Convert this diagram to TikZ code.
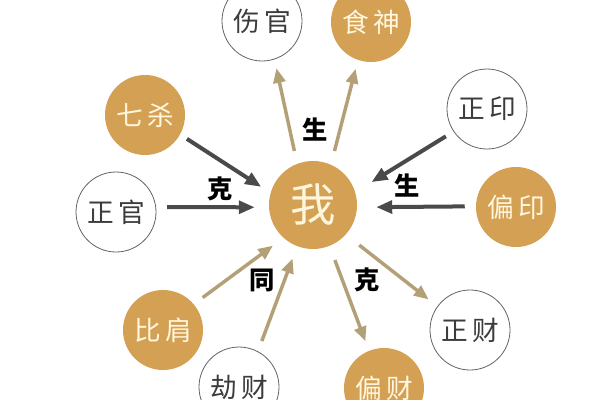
\documentclass[tikz,border=0pt]{standalone}
\usepackage{fontspec}
\newfontfamily\cjk{Noto Sans CJK SC}
\usetikzlibrary{arrows.meta}
\definecolor{gold}{RGB}{212,160,84}
\definecolor{cream}{RGB}{255,246,222}
\definecolor{inkgray}{RGB}{60,60,60}
\definecolor{rimgray}{RGB}{100,100,100}
\definecolor{darkarr}{RGB}{74,74,74}
\definecolor{tanarr}{RGB}{180,160,118}
\begin{document}
\begin{tikzpicture}[x=0.75pt,y=-0.75pt,
  filledc/.style={circle, fill=gold, minimum size=60pt, inner sep=0pt, text=cream,
    font=\cjk\fontsize{20}{20}\selectfont},
  whitec/.style={circle, draw=rimgray, line width=0.6pt, fill=white, minimum size=60pt, inner sep=0pt, text=inkgray,
    font=\cjk\fontsize{20}{20}\selectfont},
  centrec/.style={circle, fill=gold, minimum size=66pt, inner sep=0pt, text=cream,
    font=\cjk\fontsize{34}{34}\selectfont},
  lbl/.style={inner sep=0pt, text=black, font=\cjk\bfseries\fontsize{19}{19}\selectfont},
  darkarrow/.style={draw=darkarr, line width=3pt, -{Triangle[length=12pt,width=9.5pt]}},
  tanarrow/.style={draw=tanarr, line width=2.6pt, -{Triangle[length=11pt,width=9pt]}}
]
\useasboundingbox (0,0) rectangle (600,400);
\fill[white] (0,0) rectangle (600,400);

\node[centrec] (wo) at (313,205) {我};
\node[whitec] (shangguan) at (262,21) {伤\hspace{3pt}官};
\node[filledc] (shishen) at (371,22) {食\hspace{3pt}神};
\node[filledc] (qisha) at (145,115) {七\hspace{3pt}杀};
\node[whitec] (zhengguan) at (116,212) {正\hspace{3pt}官};
\node[whitec] (zhengyin) at (487,109) {正\hspace{3pt}印};
\node[filledc] (pianyin) at (516,207) {偏\hspace{3pt}印};
\node[filledc] (bijian) at (163,330) {比\hspace{3pt}肩};
\node[whitec] (jiecai) at (239,387) {劫\hspace{3pt}财};
\node[filledc] (piancai) at (384,388) {偏\hspace{3pt}财};
\node[whitec] (zhengcai) at (470,330) {正\hspace{3pt}财};

\draw[tanarrow, shorten <=9.75pt, shorten >=6.75pt] (wo.111) -- (shangguan.-72);
\draw[tanarrow, shorten <=10.5pt, shorten >=6.75pt] (wo.66) -- (shishen.-109);
\draw[darkarrow, shorten <=6pt, shorten >=8.25pt] (qisha.-29) -- (wo.164);
\draw[darkarrow, shorten <=8.25pt, shorten >=10.5pt] (zhengguan.7) -- (wo.183);
\draw[darkarrow, shorten <=6.75pt, shorten >=14.25pt] (zhengyin.214) -- (wo.17);
\draw[darkarrow, shorten <=8.25pt, shorten >=14.25pt] (pianyin.179) -- (wo.-3);
\draw[tanarrow, shorten <=8.25pt, shorten >=9.75pt] (bijian.40) -- (wo.228);
\draw[tanarrow, shorten <=8.25pt, shorten >=9.75pt] (jiecai.62) -- (wo.249);
\draw[tanarrow, shorten <=11.25pt, shorten >=7.5pt] (wo.-68) -- (piancai.112);
\draw[tanarrow, shorten <=12.75pt, shorten >=8.25pt] (wo.-42) -- (zhengcai.144);

\node[lbl] (sheng1) at (315,130) {生};
\node[lbl] (ke1) at (220,189) {克};
\node[lbl] (sheng2) at (407,186) {生};
\node[lbl] (tong) at (262,280) {同};
\node[lbl] (ke2) at (367,280) {克};
\end{tikzpicture}
\end{document}
